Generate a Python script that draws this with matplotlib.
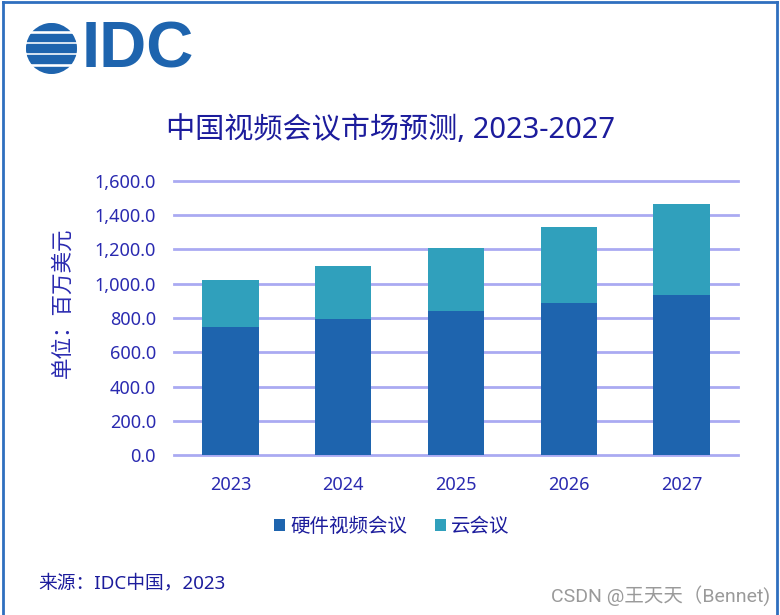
import matplotlib.pyplot as plt
from matplotlib.patches import Circle, Rectangle
import numpy as np

plt.rcParams['font.family'] = ['Noto Sans', 'Noto Sans CJK SC', 'DejaVu Sans']

years = ['2023', '2024', '2025', '2026', '2027']
hardware = [747, 793, 840, 887, 933]
cloud = [273, 313, 371, 447, 531]
yticks = [0, 200, 400, 600, 800, 1000, 1200, 1400, 1600]

W, H = 780, 615
TXT = '#2a2ab0'
DARK = '#1c1c9c'
C_HW = '#1e64ae'
C_CL = '#30a0bc'
GRID = '#aaaaf2'


def px(x, y):
    return x / W, 1 - y / H


fig = plt.figure(figsize=(W / 100, H / 100), dpi=100)
ax = fig.add_axes([174 / W, 1 - 455 / H, (738 - 174) / W, (455 - 181) / H])

x = np.arange(len(years))
ax.bar(x, hardware, width=0.5, color=C_HW, label='硬件视频会议', zorder=3)
ax.bar(x, cloud, width=0.5, bottom=hardware, color=C_CL, label='云会议', zorder=3)

ax.set_xlim(-0.5, 4.5)
ax.set_ylim(0, 1600)
ax.set_yticks(yticks)
ax.set_yticklabels([f'{v:,.1f}' for v in yticks])
ax.set_xticks(x)
ax.set_xticklabels(years)
ax.tick_params(axis='both', length=0, labelsize=13, labelcolor=TXT)
ax.tick_params(axis='x', pad=15)
ax.tick_params(axis='y', pad=13)
for s in ax.spines.values():
    s.set_visible(False)
for v in yticks:
    ax.axhline(v, color=GRID, lw=2, zorder=1, clip_on=False)

# y axis title
fig.text(*px(63, 303), '单位：百万美元', rotation=90, ha='center', va='center',
         fontsize=15.5, color=TXT)

# legend
fig.legend(loc='center', bbox_to_anchor=px(392, 527), ncol=2, frameon=False,
           fontsize=14, labelcolor=DARK, handlelength=0.55, handleheight=0.55,
           handletextpad=0.3, columnspacing=1.4)

# title
fig.text(*px(390, 131), '中国视频会议市场预测, 2023-2027', ha='center', va='center',
         fontsize=21, color=DARK)

# source and watermark
fig.text(*px(38, 583), '来源：IDC中国，2023', ha='left', va='center', fontsize=13.5, color=DARK)
fig.text(*px(770, 596), 'CSDN @王天天（Bennet)', ha='right', va='center', fontsize=14,
         color='#9a9a9a', family=['Roboto', 'Noto Sans CJK SC'])

# IDC logo
lx, ly, r = 51.5, 48.5, 25.5
logo = fig.add_axes([(lx - r) / W, 1 - (ly + r) / H, 2 * r / W, 2 * r / H])
logo.set_xlim(-1, 1)
logo.set_ylim(-1, 1)
logo.axis('off')
circ = Circle((0, 0), 1, transform=logo.transData, facecolor='none', edgecolor='none')
logo.add_patch(circ)
stripes = [(-1.0, -0.72), (-0.56, -0.26), (-0.12, 0.16), (0.30, 0.58), (0.74, 1.0)]
for y0, y1 in stripes:
    rect = Rectangle((-1, y0), 2, y1 - y0, color=C_HW)
    logo.add_patch(rect)
    rect.set_clip_path(circ)
fig.text(*px(82, 50), 'IDC', ha='left', va='center', fontsize=47,
         color=C_HW, family='Liberation Sans', fontweight='bold')

# border
fig.add_artist(plt.Line2D([3 / W, 3 / W], [0, 1 - 2 / H], color='#2f6fbf', lw=2, transform=fig.transFigure))
fig.add_artist(plt.Line2D([3 / W, 777 / W], [1 - 2 / H, 1 - 2 / H], color='#2f6fbf', lw=2, transform=fig.transFigure))
fig.add_artist(plt.Line2D([777 / W, 777 / W], [0, 1 - 2 / H], color='#2f6fbf', lw=2, transform=fig.transFigure))

fig.savefig('out.png', dpi=100)
